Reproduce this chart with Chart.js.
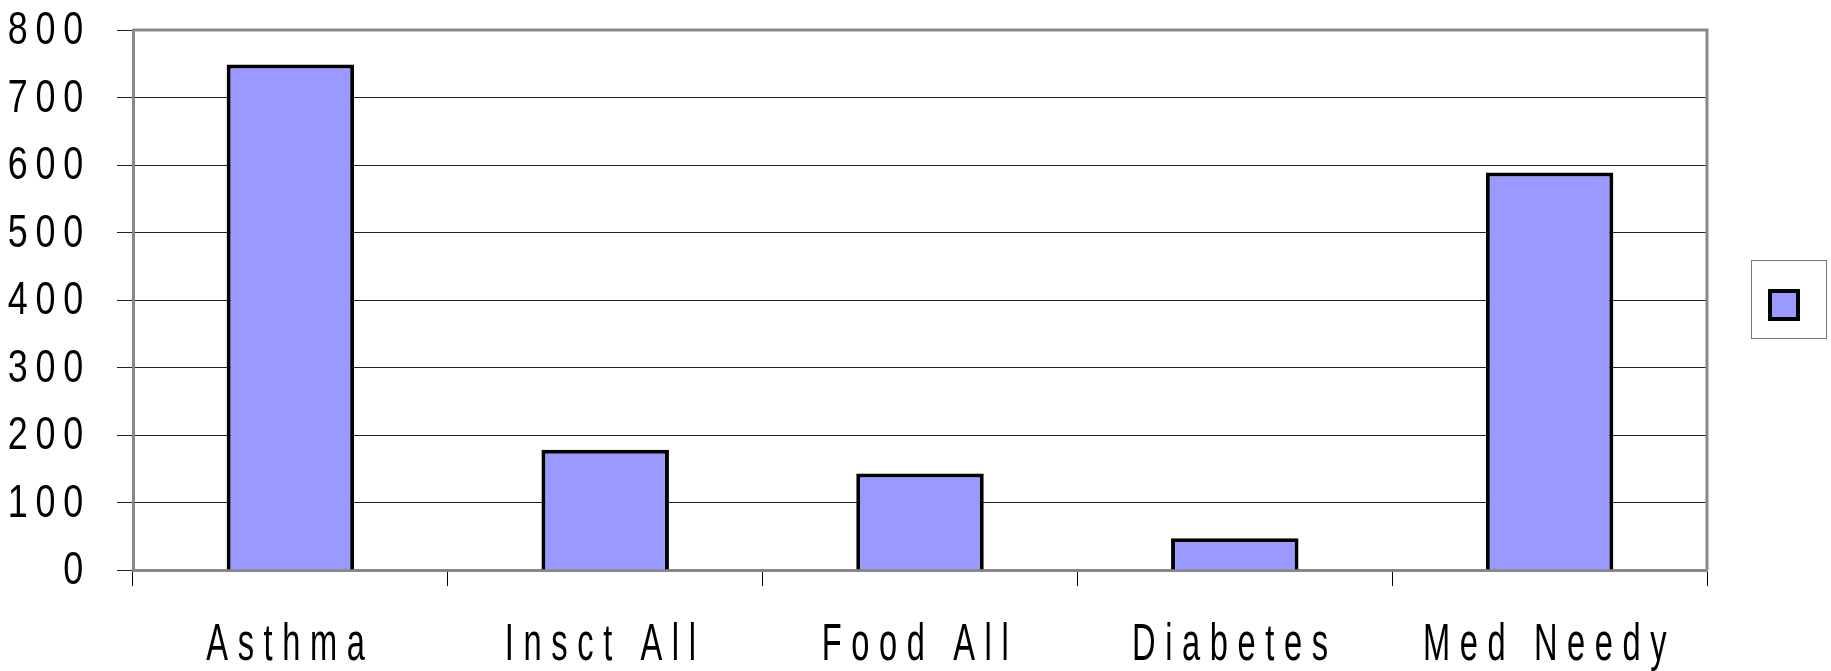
<!DOCTYPE html>
<html>
<head>
<meta charset="utf-8">
<script src="https://cdn.jsdelivr.net/npm/chart.js@4"></script>
<style>
  html, body { margin: 0; padding: 0; background: #fff; }
  #wrap { width: 1831px; height: 671px; }
</style>
</head>
<body>
<div id="wrap"><canvas id="barChart" width="1831" height="671"></canvas></div>
<script>
// data
const categories = ['Asthma', 'Insct All', 'Food All', 'Diabetes', 'Med Needy'];
const counts = [749, 178, 143, 47, 589];
const yTicks = [0, 100, 200, 300, 400, 500, 600, 700, 800];

// the original uses a tall, squeezed, letter-spaced face; Liberation Sans squeezed sideways stands in
const FAMILY = "'Liberation Sans', Arial, sans-serif";

function squeezedText(ctx, text, x, y, size, sx, spacing, align) {
    ctx.save();
    ctx.font = size + 'px ' + FAMILY;
    ctx.letterSpacing = spacing + 'px';
    ctx.textAlign = align;
    ctx.textBaseline = 'alphabetic';
    ctx.translate(x, y);
    ctx.scale(sx, 1);
    ctx.fillText(text, 0, 0);
    ctx.restore();
}

// tick labels drawn at the positions the scales give
const narrowLabels = {
    id: 'narrowLabels',
    afterDraw(chart) {
        const ctx = chart.ctx;
        const xs = chart.scales.x;
        const ys = chart.scales.y;
        ctx.save();
        ctx.fillStyle = '#000';
        xs.ticks.forEach((t, i) => {
            const x = xs.getPixelForTick(i);
            squeezedText(ctx, xs.getLabelForValue(t.value), x, xs.bottom - 11, 51, 0.64, 15, 'center');
        });
        ys.ticks.forEach((t) => {
            const y = ys.getPixelForValue(t.value);
            squeezedText(ctx, String(t.value), ys.left + 91, y + 14, 46, 0.78, 10, 'right');
        });
        ctx.restore();
    }
};

// grey frame round the plot area and the boxed legend on the right
const frame = {
    id: 'frame',
    afterDraw(chart) {
        const ctx = chart.ctx;
        const a = chart.chartArea;
        ctx.save();
        ctx.strokeStyle = '#888888';
        ctx.lineWidth = 3;
        ctx.beginPath();
        ctx.moveTo(a.left, a.top);
        ctx.lineTo(a.right, a.top);
        ctx.lineTo(a.right, a.bottom);
        ctx.stroke();

        // legend
        const ds = chart.data.datasets[0];
        const cy = (a.top + a.bottom) / 2;
        ctx.lineWidth = 1;
        ctx.strokeStyle = '#777777';
        ctx.strokeRect(1751.5, cy - 39.5, 75, 78);
        ctx.fillStyle = ds.backgroundColor;
        ctx.fillRect(1770, cy - 9, 28, 28);
        ctx.lineWidth = 4;
        ctx.strokeStyle = '#000';
        ctx.strokeRect(1770, cy - 9, 28, 28);
        ctx.restore();
    }
};

const ctx = document.getElementById('barChart').getContext('2d');
const barChart = new Chart(ctx, {
    type: 'bar',
    data: {
        labels: categories,
        datasets: [{
            label: '',
            data: counts,
            backgroundColor: '#9999ff',
            borderColor: '#000000',
            borderWidth: 4,
            categoryPercentage: 1,
            barPercentage: 0.405
        }]
    },
    options: {
        responsive: false,
        animation: false,
        layout: {
            padding: { top: 30, right: 124, left: 0, bottom: 0 }
        },
        plugins: {
            legend: { display: false },
            tooltip: { enabled: false }
        },
        scales: {
            x: {
                grid: {
                    offset: true,
                    drawOnChartArea: false,
                    drawTicks: true,
                    tickLength: 16,
                    color: '#000'
                },
                border: { color: '#888888', width: 3 },
                ticks: { display: false, autoSkip: false },
                afterFit(scale) { scale.height = 101; }
            },
            y: {
                min: 0,
                max: 800,
                afterBuildTicks(scale) {
                    scale.ticks = yTicks.map(v => ({ value: v }));
                },
                grid: {
                    color: '#222',
                    lineWidth: 1,
                    tickLength: 16
                },
                border: { color: '#888888', width: 3 },
                ticks: { display: false },
                afterFit(scale) { scale.width = 133; }
            }
        }
    },
    plugins: [narrowLabels, frame]
});
</script>
</body>
</html>
